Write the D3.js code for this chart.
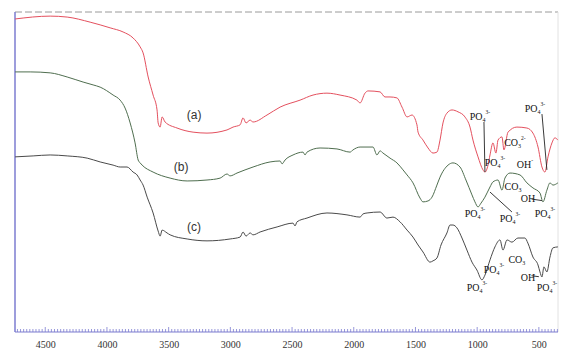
<!DOCTYPE html>
<html>
<head>
<meta charset="utf-8">
<script src="https://cdn.jsdelivr.net/npm/d3@7/dist/d3.min.js"></script>
<style>
  html, body { margin: 0; padding: 0; background: #fff; }
  svg { display: block; }
</style>
</head>
<body>
<svg id="chart" width="561" height="349"></svg>
<script>
// ---- data: [wavenumber (cm-1), transmittance (a.u.)] ----
const seriesA = [
  [4744,97.8],[4460,98.7],[4322,98.4],[4136,96.8],[3974,95.0],[3869,93.7],[3788,91.8],[3731,89.0],
  [3707,87.1],[3666,79.5],[3626,73.8],[3594,69.1],[3585,65.0],[3569,63.7],[3553,66.9],[3529,65.3],
  [3432,63.4],[3302,62.1],[3189,61.8],[3027,62.8],[2978,63.7],[2921,64.4],[2897,66.6],[2873,65.0],
  [2840,65.9],[2816,65.3],[2703,67.5],[2597,70.0],[2435,72.2],[2330,73.8],[2217,74.4],[2111,73.8],
  [1974,72.2],[1949,71.3],[1909,74.4],[1884,75.1],[1787,74.8],[1747,73.2],[1706,73.2],[1650,72.9],
  [1609,70.0],[1568,66.9],[1528,67.5],[1488,64.4],[1479,62.1],[1439,59.6],[1398,57.1],[1358,55.5],
  [1326,55.8],[1301,59.6],[1277,65.0],[1245,68.1],[1204,69.1],[1155,68.5],[1099,66.9],[1058,63.7],
  [1034,59.6],[993,54.3],[953,50.2],[937,49.5],[912,51.7],[896,54.9],[872,58.7],[848,55.5],
  [831,59.6],[799,60.6],[783,56.5],[750,62.1],[678,63.7],[597,63.4],[548,61.8],[507,57.4],
  [475,51.1],[451,49.5],[426,54.3],[394,58.7],[370,60.3],[346,59.6]
];
const seriesB = [
  [4744,81.1],[4622,81.1],[4460,80.8],[4322,79.5],[4193,77.9],[4112,77.0],[4055,76.3],[3950,73.8],
  [3893,72.2],[3853,69.7],[3812,65.0],[3772,58.7],[3747,53.3],[3731,52.4],[3715,51.7],[3626,49.5],
  [3488,47.6],[3350,46.7],[3189,47.0],[3083,47.6],[3027,48.9],[3002,48.3],[2946,49.2],[2816,51.1],
  [2678,52.7],[2597,53.0],[2581,52.1],[2557,53.3],[2492,54.9],[2411,55.8],[2395,54.9],[2379,55.8],
  [2273,57.1],[2136,56.8],[2030,55.8],[2006,56.5],[1949,57.4],[1844,57.4],[1812,54.9],[1787,56.2],
  [1763,55.5],[1706,53.9],[1650,52.4],[1601,50.2],[1568,48.6],[1520,46.1],[1463,41.3],[1439,40.1],
  [1398,40.4],[1366,41.6],[1326,45.4],[1301,47.9],[1236,51.7],[1196,52.4],[1139,51.1],[1091,47.0],
  [1042,42.3],[1018,40.1],[993,38.5],[969,39.7],[937,41.6],[896,44.8],[872,46.4],[831,47.0],
  [799,43.8],[775,47.6],[734,49.2],[653,48.6],[597,46.1],[548,44.5],[491,42.9],[467,40.1],
  [435,43.8],[410,46.1],[386,45.4],[346,46.1]
];
const seriesC = [
  [4744,54.3],[4598,54.6],[4460,54.9],[4322,54.6],[4160,53.9],[4055,52.7],[3950,51.7],[3893,51.1],
  [3837,51.1],[3788,49.5],[3756,48.6],[3731,47.0],[3707,45.4],[3674,41.6],[3626,36.6],[3585,30.9],
  [3569,29.3],[3553,31.2],[3513,30.3],[3488,29.7],[3350,28.4],[3189,27.8],[3002,28.4],[2921,29.0],
  [2897,30.6],[2873,29.3],[2840,30.3],[2816,29.7],[2759,30.6],[2621,32.2],[2492,33.4],[2476,32.5],
  [2460,33.8],[2379,35.0],[2217,36.6],[2055,36.0],[1949,35.3],[1925,36.3],[1892,36.6],[1787,36.9],
  [1731,35.0],[1682,35.3],[1625,33.8],[1568,31.2],[1520,29.0],[1479,26.5],[1439,24.3],[1382,21.1],
  [1358,21.5],[1326,22.4],[1293,26.5],[1245,30.3],[1220,32.8],[1196,32.8],[1164,31.9],[1123,28.7],
  [1083,24.9],[1042,21.1],[1002,18.6],[961,15.5],[937,17.0],[896,21.8],[856,25.9],[815,28.1],
  [791,24.9],[758,28.1],[718,27.4],[670,28.7],[613,28.7],[589,27.1],[548,22.7],[507,20.2],
  [491,18.0],[475,16.4],[459,19.6],[435,18.0],[410,22.7],[386,25.6],[346,25.9]
];
const seriesNames = ["(a)", "(b)", "(c)"];
const seriesLabelPos = [[3294,66.2],[3399,49.8],[3294,30.9]];
const xTickValues = [4500, 4000, 3500, 3000, 2500, 2000, 1500, 1000, 500];

// band annotations: [main, subscript, superscript, wavenumber, T]
const bandLabels = [
  ["PO","4","3-",977,65.9],["PO","4","3-",532,68.5],["CO","3","2-",694,57.7],
  ["PO","4","3-",856,51.4],["OH","","-",613,50.8],
  ["PO","4","3-",1018,35.3],["PO","4","3-",734,33.8],["PO","4","3-",451,35.3],
  ["CO","3","",710,43.8],["OH","","",589,40.1],
  ["PO","4","3-",1002,12.0],["PO","4","3-",864,17.7],["CO","3","",678,20.8],
  ["OH","","",589,15.1],["PO","4","3-",435,12.0]
];
// leader lines: [[wn1,T1],[wn2,T2]]
const leaderLines = [
  [[945,65.3],[937,49.5]],
  [[475,67.8],[435,50.2]],
  [[896,43.2],[718,36.9]],
  [[560,41.0],[475,40.5]],
  [[560,16.8],[500,16.5]]
];

// ---- drawing ----
const svg = d3.select("#chart");
const x = d3.scaleLinear().domain([4745, 345]).range([15, 558]);
const y = d3.scaleLinear().domain([0, 100]).range([329, 12]);
const axisColor = "#7c7cd0";

// frame: top dashed, right faint
svg.append("line").attr("x1", x(4745)).attr("x2", x(345)).attr("y1", y(100)).attr("y2", y(100))
  .attr("stroke", "#9a9a9a").attr("stroke-width", 1).attr("stroke-dasharray", "7,3");
svg.append("line").attr("x1", x(345)).attr("x2", x(345)).attr("y1", y(100)).attr("y2", y(0) + 3)
  .attr("stroke", "#e2e2e2").attr("stroke-width", 1);

// bottom axis with inward ticks
const axisY = y(0) + 3;
const minor = d3.range(350, 4745, 25);
const gx = svg.append("g").attr("transform", `translate(0,${axisY})`);
gx.append("line").attr("x1", x(4745)).attr("x2", x(345)).attr("y1", 0).attr("y2", 0)
  .attr("stroke", axisColor).attr("stroke-width", 1.2);
gx.selectAll("line.minor").data(minor).join("line").attr("class", "minor")
  .attr("x1", d => x(d)).attr("x2", d => x(d)).attr("y1", 0)
  .attr("y2", d => (d % 500 === 0 ? -5 : -3))
  .attr("stroke", axisColor).attr("stroke-width", 0.8);
const axis = d3.axisBottom(x).tickValues(xTickValues).tickSize(0).tickPadding(9).tickFormat(d3.format("d"));
const ga = gx.append("g").call(axis);
ga.select(".domain").remove();
ga.selectAll("text").attr("font-family", "Liberation Serif, serif").attr("font-size", 10).attr("fill", "#333");

// left axis
svg.append("line").attr("x1", x(4745)).attr("x2", x(4745)).attr("y1", y(100)).attr("y2", axisY)
  .attr("stroke", axisColor).attr("stroke-width", 1.5);

// spectra
const line = d3.line().x(d => x(d[0])).y(d => y(d[1])).curve(d3.curveMonotoneX);
const colors = ["#e4505e", "#4f6e4f", "#4a4a4a"];
[seriesA, seriesB, seriesC].forEach((s, i) => {
  const data = s.slice().sort((a, b) => a[0] - b[0]);
  svg.append("path").datum(data).attr("d", line).attr("fill", "none")
    .attr("stroke", colors[i]).attr("stroke-width", 1);
});

// series labels
seriesNames.forEach((n, i) => {
  svg.append("text").attr("x", x(seriesLabelPos[i][0])).attr("y", y(seriesLabelPos[i][1]))
    .attr("text-anchor", "middle").attr("font-family", "Liberation Sans, Arial, sans-serif")
    .attr("font-size", 12).attr("fill", "#333").text(n);
});

// leader lines
leaderLines.forEach(l => {
  svg.append("line").attr("x1", x(l[0][0])).attr("y1", y(l[0][1]))
    .attr("x2", x(l[1][0])).attr("y2", y(l[1][1])).attr("stroke", "#222").attr("stroke-width", 0.9);
});

// band labels
bandLabels.forEach(b => {
  const t = svg.append("text").attr("x", x(b[3])).attr("y", y(b[4]))
    .attr("text-anchor", "middle").attr("font-family", "Liberation Serif, serif")
    .attr("font-size", 10).attr("fill", "#111");
  t.append("tspan").text(b[0]);
  let shift = 0;
  if (b[1]) { t.append("tspan").attr("font-size", 6).attr("dy", 2).text(b[1]); shift = 2; }
  if (b[2]) { t.append("tspan").attr("font-size", 5.5).attr("dy", -6 - shift + 0).text(b[2]); }
});
</script>
</body>
</html>
